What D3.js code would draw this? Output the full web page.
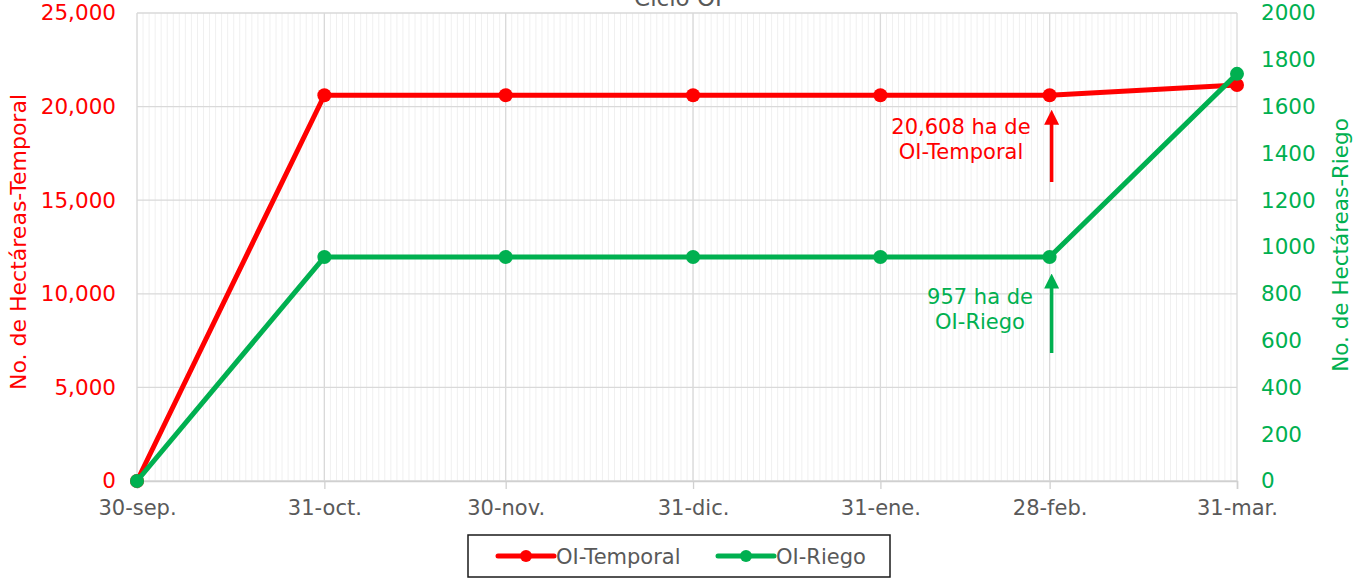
<!DOCTYPE html>
<html lang="es">
<head>
<meta charset="UTF-8" />
<script src="https://d3js.org/d3.v7.min.js"></script>
<title>Ciclo OI</title>
<style>
  body { margin: 0; background: #fff; }
  svg text { font-family: "DejaVu Sans", sans-serif; }
</style>
</head>
<body>
<svg id="chart" width="1362" height="579"></svg>
<script>
// data
const dates = ['2022-09-30', '2022-10-31', '2022-11-30', '2022-12-31', '2023-01-31', '2023-02-28', '2023-03-31'];
const tickLabels = ['30-sep.', '31-oct.', '30-nov.', '31-dic.', '31-ene.', '28-feb.', '31-mar.'];
const temporal = [0, 20608, 20608, 20608, 20608, 20608, 21150];
const riego = [0, 957, 957, 957, 957, 957, 1740];
const leftTicks = [0, 5000, 10000, 15000, 20000, 25000];
const rightTicks = [0, 200, 400, 600, 800, 1000, 1200, 1400, 1600, 1800, 2000];

const parse = d3.timeParse('%Y-%m-%d');
const days = dates.map(parse);

const RED = '#ff0000';
const GREEN = '#00b050';
const GREY = '#595959';

const svg = d3.select('#chart');
const margin = { top: 13, right: 125, bottom: 98, left: 137 };
const width = +svg.attr('width');
const height = +svg.attr('height');
const innerWidth = width - margin.left - margin.right;
const innerHeight = height - margin.top - margin.bottom;

const x = d3.scaleTime().domain(d3.extent(days)).range([0, innerWidth]);
const yL = d3.scaleLinear().domain([0, 25000]).range([innerHeight, 0]);
const yR = d3.scaleLinear().domain([0, 2000]).range([innerHeight, 0]);

const g = svg.append('g').attr('transform', `translate(${margin.left},${margin.top})`);

// minor daily gridlines
g.append('g').selectAll('line')
  .data(d3.timeDay.range(days[0], days[days.length - 1]))
  .enter().append('line')
  .attr('x1', d => x(d)).attr('x2', d => x(d))
  .attr('y1', 0).attr('y2', innerHeight)
  .attr('stroke', '#f0f0f0').attr('stroke-width', 1);

// major vertical gridlines
g.append('g').selectAll('line')
  .data(days)
  .enter().append('line')
  .attr('x1', d => x(d)).attr('x2', d => x(d))
  .attr('y1', 0).attr('y2', innerHeight)
  .attr('stroke', '#d9d9d9').attr('stroke-width', 1.3);

// horizontal gridlines
g.append('g').selectAll('line')
  .data(leftTicks)
  .enter().append('line')
  .attr('x1', 0).attr('x2', innerWidth)
  .attr('y1', d => yL(d)).attr('y2', d => yL(d))
  .attr('stroke', '#d9d9d9').attr('stroke-width', 1.3);

// x axis
const xAxis = d3.axisBottom(x)
  .tickValues(days)
  .tickFormat((d, i) => tickLabels[i])
  .tickSize(8)
  .tickPadding(11);
const xAxisG = g.append('g').attr('transform', `translate(0,${innerHeight})`).call(xAxis);
xAxisG.select('.domain').attr('stroke', '#d0d0d0').attr('stroke-width', 1.5);
xAxisG.selectAll('.tick line').attr('stroke', '#d0d0d0').attr('stroke-width', 1.3);
xAxisG.selectAll('text').attr('fill', GREY).style('font-size', '21px');

// left axis
const yLAxis = d3.axisLeft(yL).tickValues(leftTicks).tickFormat(d3.format(',')).tickSize(0).tickPadding(21);
const yLG = g.append('g').call(yLAxis);
yLG.select('.domain').remove();
yLG.selectAll('text').attr('fill', RED).style('font-size', '21.5px');

// right axis
const yRAxis = d3.axisRight(yR).tickValues(rightTicks).tickFormat(d3.format('d')).tickSize(0).tickPadding(24);
const yRG = g.append('g').attr('transform', `translate(${innerWidth},0)`).call(yRAxis);
yRG.select('.domain').remove();
yRG.selectAll('text').attr('fill', GREEN).style('font-size', '21.5px');

// axis titles
svg.append('text')
  .attr('transform', `translate(26,${margin.top + innerHeight / 2 - 5}) rotate(-90)`)
  .attr('text-anchor', 'middle')
  .attr('fill', RED)
  .style('font-size', '22px')
  .text('No. de Hectáreas-Temporal');

svg.append('text')
  .attr('transform', `translate(1348,${margin.top + innerHeight / 2 - 2}) rotate(-90)`)
  .attr('text-anchor', 'middle')
  .attr('fill', GREEN)
  .style('font-size', '21.5px')
  .text('No. de Hectáreas-Riego');

// title (cut at top)
svg.append('text')
  .attr('x', 678).attr('y', 6)
  .attr('text-anchor', 'middle')
  .attr('fill', GREY)
  .style('font-size', '23px')
  .text('Ciclo OI');

// series
const series = [
  { name: 'OI-Temporal', values: temporal, y: yL, color: RED },
  { name: 'OI-Riego', values: riego, y: yR, color: GREEN }
];

series.forEach(s => {
  const line = d3.line()
    .x((d, i) => x(days[i]))
    .y(d => s.y(d));
  g.append('path')
    .datum(s.values)
    .attr('fill', 'none')
    .attr('stroke', s.color)
    .attr('stroke-width', 5)
    .attr('stroke-linejoin', 'round')
    .attr('d', line);
  g.append('g').selectAll('circle')
    .data(s.values)
    .enter().append('circle')
    .attr('cx', (d, i) => x(days[i]))
    .attr('cy', d => s.y(d))
    .attr('r', 7)
    .attr('fill', s.color);
});

// annotations
svg.append('defs').selectAll('marker')
  .data([{ id: 'arrRed', c: RED }, { id: 'arrGreen', c: GREEN }])
  .enter().append('marker')
  .attr('id', d => d.id)
  .attr('viewBox', '0 0 10 10')
  .attr('refX', 5).attr('refY', 5)
  .attr('markerWidth', 4.3).attr('markerHeight', 4.3)
  .attr('orient', 'auto')
  .append('path')
  .attr('d', 'M0,0 L10,5 L0,10 z')
  .attr('fill', d => d.c);

const annotations = [
  { lines: ['20,608 ha de', 'OI-Temporal'], color: RED, marker: 'arrRed', value: temporal[5], y: yL, tx: 961, ty: 134, y1: 182, gap: 22 },
  { lines: ['957 ha de', 'OI-Riego'], color: GREEN, marker: 'arrGreen', value: riego[5], y: yR, tx: 980, ty: 304, y1: 353, gap: 24 }
];

annotations.forEach(a => {
  const ax = margin.left + x(days[5]) + 2;
  svg.append('line')
    .attr('x1', ax).attr('x2', ax)
    .attr('y1', a.y1)
    .attr('y2', margin.top + a.y(a.value) + a.gap)
    .attr('stroke', a.color)
    .attr('stroke-width', 3.5)
    .attr('marker-end', `url(#${a.marker})`);
  a.lines.forEach((t, i) => {
    svg.append('text')
      .attr('x', a.tx).attr('y', a.ty + i * 25)
      .attr('text-anchor', 'middle')
      .attr('fill', a.color)
      .style('font-size', '21px')
      .text(t);
  });
});

// legend
const legend = svg.append('g').attr('transform', 'translate(468,535)');
legend.append('rect')
  .attr('width', 422).attr('height', 42)
  .attr('fill', '#fff')
  .attr('stroke', '#1a1a1a').attr('stroke-width', 1.5);
const legendX = [30, 250];
series.forEach((s, i) => {
  const lg = legend.append('g').attr('transform', `translate(${legendX[i]},21)`);
  lg.append('line').attr('x1', 0).attr('x2', 56).attr('y1', 0).attr('y2', 0)
    .attr('stroke', s.color).attr('stroke-width', 5).attr('stroke-linecap', 'round');
  lg.append('circle').attr('cx', 28).attr('cy', 0).attr('r', 6).attr('fill', s.color);
  lg.append('text').attr('x', 58).attr('y', 8)
    .attr('fill', GREY).style('font-size', '21px').text(s.name);
});
</script>
</body>
</html>
